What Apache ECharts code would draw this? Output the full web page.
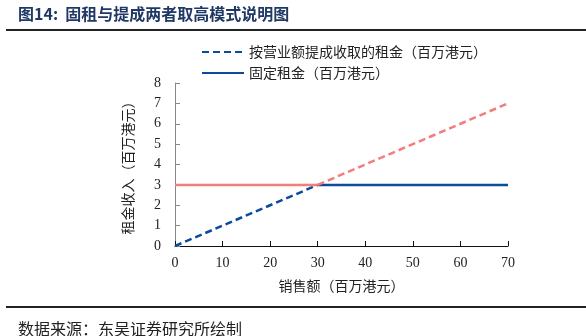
<!DOCTYPE html>
<html><head><meta charset="utf-8">
<script src="https://cdn.jsdelivr.net/npm/echarts@6/dist/echarts.min.js"></script>
<style>html,body{margin:0;padding:0;background:#fff}#c{width:586px;height:336px}</style>
</head><body><div id="c"></div>
<script>
var titleText = '图14:  固租与提成两者取高模式说明图';
var sourceText = '数据来源：东吴证券研究所绘制';
var xAxisName = '销售额（百万港元）';
var yAxisName = '租金收入（百万港元）';
var seriesNames = ['按营业额提成收取的租金（百万港元）', '固定租金（百万港元）'];
// breakpoint at sales 30
var salesLow = [0, 30];
var salesHigh = [30, 70];
var commissionLow = [0, 3];
var commissionHigh = [3, 7];
var fixedLow = [3, 3];
var fixedHigh = [3, 3];

var blue = '#0B4A9C', pink = '#F47C7A';
var serif = '"Liberation Serif","Noto Sans CJK SC",serif';
var cjk = '"Noto Sans CJK SC"';
function pts(xs, ys){ return xs.map(function(x,i){return [x, ys[i]];}); }

var chart = echarts.init(document.getElementById('c'));
chart.setOption({
  animation:false,
  backgroundColor:'#fff',
  graphic:[
    {type:'text', left:18, top:6, style:{text:titleText, font:'bold 16px "Noto Sans CJK SC"', fill:'#1F3864'}},
    {type:'line', shape:{x1:6,y1:30,x2:586,y2:30}, style:{stroke:'#222', lineWidth:2}},
    {type:'line', shape:{x1:6,y1:307,x2:586,y2:307}, style:{stroke:'#222', lineWidth:2}},
    {type:'text', left:18, top:321, style:{text:sourceText, font:'16px "Noto Sans CJK SC"', fill:'#222'}}
  ],
  legend:{
    data:seriesNames, orient:'vertical', left:196, top:40,
    itemWidth:42, itemHeight:14, itemGap:7,
    itemStyle:{opacity:0},
    textStyle:{fontSize:14, color:'#222', fontFamily:cjk}
  },
  grid:{left:175, right:78, top:83, bottom:90},
  xAxis:{
    type:'value', min:0, max:70, interval:10,
    name:xAxisName, nameLocation:'middle', nameGap:33,
    nameTextStyle:{fontSize:14, color:'#222', fontFamily:cjk},
    axisLine:{lineStyle:{color:'#111'}},
    axisTick:{inside:true, length:5, lineStyle:{color:'#111'}},
    axisLabel:{fontSize:14, color:'#222', fontFamily:serif, margin:10},
    splitLine:{show:false}
  },
  yAxis:{
    type:'value', min:0, max:8, interval:1,
    name:yAxisName, nameLocation:'middle', nameGap:40, nameRotate:90,
    nameTextStyle:{fontSize:14, color:'#222', fontFamily:cjk},
    axisLine:{show:true, lineStyle:{color:'#888'}},
    axisTick:{show:true, inside:true, length:5, lineStyle:{color:'#888'}},
    axisLabel:{fontSize:14, color:'#222', fontFamily:serif, margin:14},
    splitLine:{show:false}
  },
  series:[
    {name:seriesNames[0], type:'line', symbol:'none', color:blue, data:pts(salesLow, commissionLow),
     lineStyle:{color:blue, width:2.5, type:[7,4]}},
    {name:seriesNames[1], type:'line', symbol:'none', color:blue, data:pts(salesHigh, fixedHigh),
     lineStyle:{color:blue, width:2.5}},
    {name:'commission_high', type:'line', symbol:'none', data:pts(salesHigh, commissionHigh),
     lineStyle:{color:pink, width:2.5, type:[7,4]}},
    {name:'fixed_low', type:'line', symbol:'none', data:pts(salesLow, fixedLow),
     lineStyle:{color:pink, width:2.5}}
  ]
});
</script></body></html>
